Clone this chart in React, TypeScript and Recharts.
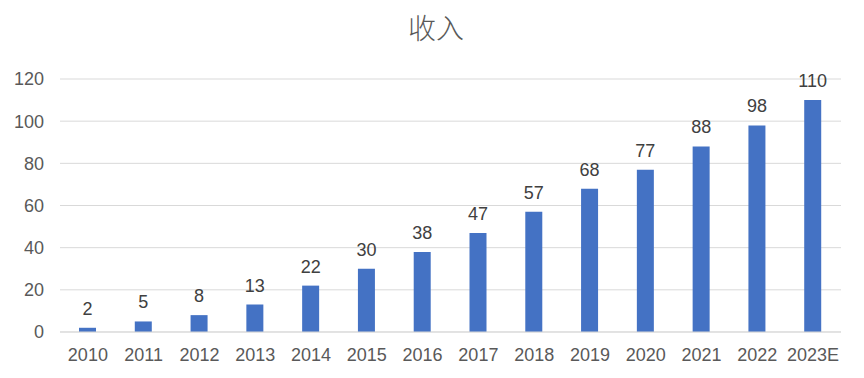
import React from 'react';
import { BarChart, Bar, XAxis, YAxis, CartesianGrid, LabelList } from 'recharts';

const categories = ['2010', '2011', '2012', '2013', '2014', '2015', '2016', '2017', '2018', '2019', '2020', '2021', '2022', '2023E'];
const revenue = [2, 5, 8, 13, 22, 30, 38, 47, 57, 68, 77, 88, 98, 110];
const yTicks = [0, 20, 40, 60, 80, 100, 120];
const title = '收入';

const data = categories.map((c, i) => ({ name: c, value: revenue[i] }));

const FONT = '"Liberation Sans", Arial, sans-serif';

export default function App() {
  return (
    <div style={{ position: 'absolute', left: 0, top: 0, width: 864, height: 378, background: '#fff' }}>
      <div
        style={{
          position: 'absolute',
          left: 4,
          top: 9,
          width: 864,
          textAlign: 'center',
          fontFamily: '"Noto Sans CJK SC", sans-serif',
          fontWeight: 300,
          fontSize: 28,
          lineHeight: '36px',
          color: '#595959',
        }}
      >
        {title}
      </div>
      <BarChart
        width={864}
        height={378}
        data={data}
        margin={{ top: 79, right: 23, bottom: 16, left: 10 }}
        barSize={17}
      >
        <CartesianGrid vertical={false} stroke="#d9d9d9" strokeWidth={1} />
        <XAxis
          dataKey="name"
          height={30}
          tickLine={false}
          axisLine={{ stroke: '#d9d9d9' }}
          tickSize={0}
          tickMargin={16}
          interval={0}
          tick={{ fill: '#595959', fontSize: 18, fontFamily: FONT }}
        />
        <YAxis
          width={50}
          domain={[0, 120]}
          ticks={yTicks}
          axisLine={false}
          tickLine={false}
          tickSize={0}
          tickMargin={16}
          tick={{ fill: '#595959', fontSize: 18, fontFamily: FONT }}
        />
        <Bar dataKey="value" fill="#4472C4" isAnimationActive={false}>
          <LabelList
            dataKey="value"
            position="top"
            offset={13}
            fill="#404040"
            fontSize={18}
            fontFamily={FONT}
          />
        </Bar>
      </BarChart>
    </div>
  );
}
